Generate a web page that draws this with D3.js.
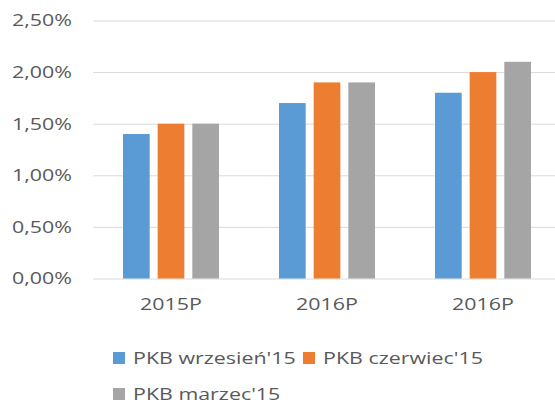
<!DOCTYPE html>
<html>
<head>
<meta charset="utf-8">
<script src="https://d3js.org/d3.v7.min.js"></script>
<style type="text/css">
	body{ margin:0; background:#fff; }
	text{ font-family:"Open Sans", sans-serif; fill:#595959; font-size:17px; }
	.grid line{ stroke:#d9d9d9; stroke-width:1; }
	.grid path.domain{ display:none; }
</style>
</head>
<body>
<div id="chart"></div>
<script type="text/javascript">
var categories = ["2015P", "2016P", "2016P"];
var series_names = ["PKB wrzesień'15", "PKB czerwiec'15", "PKB marzec'15"];
var series_colors = ["#5b9bd5", "#ed7d31", "#a5a5a5"];
/* wartości w % */
var wrzesien = [1.4, 1.7, 1.8];
var czerwiec = [1.5, 1.9, 2.0];
var marzec = [1.5, 1.9, 2.1];
var y_ticks = [0, 0.5, 1.0, 1.5, 2.0, 2.5];

var w = 555, h = 405;
var sx = 1.26; /* tekst w oryginale jest rozciągnięty w poziomie */
var svg = d3.select("#chart").append("svg").attr("width", w).attr("height", h);

var series = [wrzesien, czerwiec, marzec];
var y_scale = d3.scaleLinear().domain([0, 2.5]).range([278.5, 20.5]);
var x0 = d3.scaleBand().domain(d3.range(categories.length)).range([93, 561]);
var x1 = d3.scaleBand().domain(d3.range(series.length)).range([30, 126]).paddingInner(0.23);

var fmt = function(d){ return d3.format(".2f")(d).replace(".", ",") + "%"; };
function place(x, y){ return "translate(" + x + "," + y + ") scale(" + sx + ",1)"; }

/* siatka */
svg.append("g").attr("class", "grid")
	.attr("transform", "translate(93,0)")
	.call(d3.axisLeft(y_scale).tickValues(y_ticks).tickSize(-(w - 93)).tickFormat(""));

/* etykiety osi y */
svg.append("g").selectAll("text").data(y_ticks).enter().append("text")
	.attr("transform", function(d){ return place(72, y_scale(d)); })
	.attr("dy", "0.35em").attr("text-anchor", "end").text(fmt);

/* słupki */
var groups = svg.append("g").selectAll("g").data(categories).enter().append("g")
	.attr("transform", function(d, i){ return "translate(" + x0(i) + ",0)"; });
groups.selectAll("rect").data(function(d, i){
		return series.map(function(s, j){ return {j: j, v: s[i]}; });
	}).enter().append("rect")
	.attr("x", function(d){ return x1(d.j); })
	.attr("y", function(d){ return y_scale(d.v); })
	.attr("width", x1.bandwidth())
	.attr("height", function(d){ return y_scale(0) - y_scale(d.v); })
	.attr("fill", function(d){ return series_colors[d.j]; });

/* etykiety osi x */
svg.append("g").selectAll("text").data(categories).enter().append("text")
	.attr("transform", function(d, i){ return place(x0(i) + x0.bandwidth() / 2, 304); })
	.attr("dy", "0.35em").attr("text-anchor", "middle").text(function(d){ return d; });

/* legenda */
var legend_pos = [[113, 358], [303, 358], [113, 394]];
var legend = svg.append("g").selectAll("g").data(series_names).enter().append("g")
	.attr("transform", function(d, i){ return "translate(" + legend_pos[i][0] + "," + legend_pos[i][1] + ")"; });
legend.append("rect").attr("x", 0).attr("y", -6).attr("width", 12).attr("height", 12)
	.attr("fill", function(d, i){ return series_colors[i]; });
legend.append("text").attr("transform", place(20, 0)).attr("dy", "0.35em")
	.text(function(d){ return d; });
</script>
</body>
</html>
